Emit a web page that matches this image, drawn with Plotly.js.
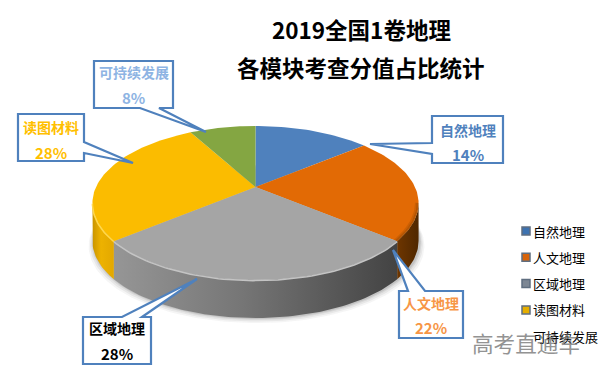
<!DOCTYPE html>
<html><head><meta charset="utf-8">
<script src="https://cdn.plot.ly/plotly-3.0.1.min.js"></script>
<style>html,body{margin:0;padding:0;background:#fff}#c{width:609px;height:381px}</style>
</head><body><div id="c"></div>
<script>
var categories = ['自然地理','人文地理','区域地理','读图材料','可持续发展'];
var values = [14,22,28,28,8];
var labelColors = ['#4F81BD','#F79646','#000000','#FFC000','#8EB4E3'];
var topColors = ['#4F81BD','#E26A05','#A5A5A5','#FBBC00','#84A642'];
var markerColors = ['#3D72B0','#D8640A','#7D8794','#E5AE00'];
var wallScales = [null,
  [[0,'#6E3600'],[1,'#4F2700']],
  [[0,'#969696'],[0.45,'#767676'],[1,'#434343']],
  [[0,'#C99400'],[0.4,'#EDB200'],[1,'#E3A800']],
  null];
var F = '"Noto Sans CJK SC","Noto Sans",sans-serif';
// perspective of the pie plane
var cx=255.5, cy=187, A=159.5, B=73.7, K=0.208, D=38;
function proj(t,d,s){ // t = clockwise turn from 12 o'clock, radians; s = radius fraction
  s=s||1;
  var u=s*Math.sin(t), v=s*Math.cos(t), w=1+K*v;
  return [cx+A*u/w, cy-B*v/w+(d||0)];
}
function arc(t0,t1,d,s){var o=[],n=Math.max(8,Math.ceil(Math.abs(t1-t0)*40));
  for(var i=0;i<=n;i++)o.push(proj(t0+(t1-t0)*i/n,d,s));return o;}
var total=values.reduce(function(a,b){return a+b},0),edges=[0];
values.forEach(function(v,i){edges.push(edges[i]+v/total*2*Math.PI)});
var tR=Math.acos(-K), tL=2*Math.PI-tR;
var traces=[];
function poly(pts,o){var t={type:'scatter',mode:'lines',x:pts.map(function(p){return p[0]}),y:pts.map(function(p){return p[1]}),
  fill:'toself',line:{width:0},hoverinfo:'skip',showlegend:false};for(var k in o)t[k]=o[k];traces.push(t);}
// soft shadow below the wall
[[5,0.05],[3.5,0.07],[2,0.09],[1,0.12]].forEach(function(s){
  var e=arc(0,2*Math.PI,D+s[0]).map(function(p){return [cx+1+(p[0]-cx)*(1+s[0]/170),p[1]]});
  poly(e,{fillcolor:'rgba(60,60,60,'+s[1]+')'});
});
// walls
for(var i=1;i<=3;i++){
  var a=Math.max(edges[i],tR), b=Math.min(edges[i+1],tL);
  if(b<=a)continue;
  poly(arc(a,b,0).concat(arc(b,a,D)),{fillcolor:'rgba(0,0,0,0)',fillgradient:{type:'horizontal',colorscale:wallScales[i]}});
}
// top face
values.forEach(function(v,i){
  var pts=[[cx,cy]].concat(arc(edges[i],edges[i+1],0));pts.push([cx,cy]);
  poly(pts,{fillcolor:topColors[i],name:categories[i]});
});
// rim bevel
function rim(t0,t1,col,w,s,d){var p=arc(t0,t1,d===undefined?0.6:d,s);traces.push({type:'scatter',mode:'lines',x:p.map(function(q){return q[0]}),y:p.map(function(q){return q[1]}),
  line:{color:col,width:w},hoverinfo:'skip',showlegend:false});}
rim(tR,edges[2],'rgba(90,45,0,0.16)',2,0.985,0);
rim(tR,edges[2],'rgba(90,45,0,0.3)',2,0.995,0);
rim(edges[2],edges[3],'#C4C4C4',1.5);
rim(edges[3],tL,'#FFD84D',1.5);
// legend markers
var legendTop=231, legendStep=26.3, legendMarkX=526, legendTextX=531;
traces.push({type:'scatter',mode:'markers',x:markerColors.map(function(){return legendMarkX}),
  y:markerColors.map(function(c,i){return legendTop+i*legendStep}),
  marker:{symbol:'square',size:8,color:markerColors,line:{color:'#5F6E80',width:1.5}},hoverinfo:'skip',showlegend:false});

var ann=[];
function txt(x,y,t,size,col,bold,anchor){ann.push({x:x,y:y,xref:'x',yref:'y',text:bold?'<b>'+t+'</b>':t,showarrow:false,
  xanchor:anchor||'center',yanchor:'middle',font:{family:F,size:size,color:col}});}
txt(361,29,'2019全国1卷地理',22.5,'#000',true);
txt(361,67,'各模块考查分值占比统计',22.5,'#000',true);
var boxes=[
 [432,116,503,163,'M 432 143 L 370 144 L 432 154',14,38],
 [399,291,463,338,'M 408 291 L 393 250 L 425 291',12,36],
 [83,317,151,364,'M 122 317 L 197 279 L 142 317',11,36],
 [18,114,84,161,'M 84 142 L 133 163 L 84 153',13,38],
 [94,61,173,108,'M 140 108 L 206 132 L 159 108',11,36]
];
var shapes=[];
boxes.forEach(function(b,i){
  var m=b[4].match(/-?\d+/g).map(Number);
  var l=b[0],t=b[1],r=b[2],bo=b[3],path;
  if(m[0]===l) path='M '+l+' '+t+' L '+r+' '+t+' L '+r+' '+bo+' L '+l+' '+bo+' L '+l+' '+m[5]+' L '+m[2]+' '+m[3]+' L '+l+' '+m[1]+' Z';
  else if(m[0]===r) path='M '+l+' '+t+' L '+r+' '+t+' L '+r+' '+m[1]+' L '+m[2]+' '+m[3]+' L '+r+' '+m[5]+' L '+r+' '+bo+' L '+l+' '+bo+' Z';
  else if(m[1]===t) path='M '+l+' '+t+' L '+m[0]+' '+t+' L '+m[2]+' '+m[3]+' L '+m[4]+' '+t+' L '+r+' '+t+' L '+r+' '+bo+' L '+l+' '+bo+' Z';
  else path='M '+l+' '+t+' L '+r+' '+t+' L '+r+' '+bo+' L '+m[4]+' '+bo+' L '+m[2]+' '+m[3]+' L '+m[0]+' '+bo+' L '+l+' '+bo+' Z';
  shapes.push({type:'path',path:path,xref:'x',yref:'y',fillcolor:'#FFFFFF',line:{color:'#4F81BD',width:2.2},layer:'above'});
  var mx=(l+r)/2;
  txt(mx,t+b[5],categories[i],14,labelColors[i],true);
  txt(mx,t+b[6],values[i]+'%',15,labelColors[i],true);
});
categories.forEach(function(c,i){txt(legendTextX,legendTop+i*legendStep,c,13,'#000',false,'left');});
ann.push({x:526,y:342,xref:'x',yref:'y',text:'高考直通车',showarrow:false,xanchor:'center',yanchor:'middle',
  opacity:0.7,font:{family:F,size:21.6,color:'#666'}});

var layout={width:609,height:381,margin:{l:0,r:0,t:0,b:0},paper_bgcolor:'#fff',plot_bgcolor:'#fff',showlegend:false,
 xaxis:{range:[0,609],visible:false,fixedrange:true},yaxis:{range:[381,0],visible:false,fixedrange:true},
 annotations:ann,shapes:shapes};
Plotly.newPlot('c',traces,layout,{displayModeBar:false,staticPlot:true});
</script></body></html>
